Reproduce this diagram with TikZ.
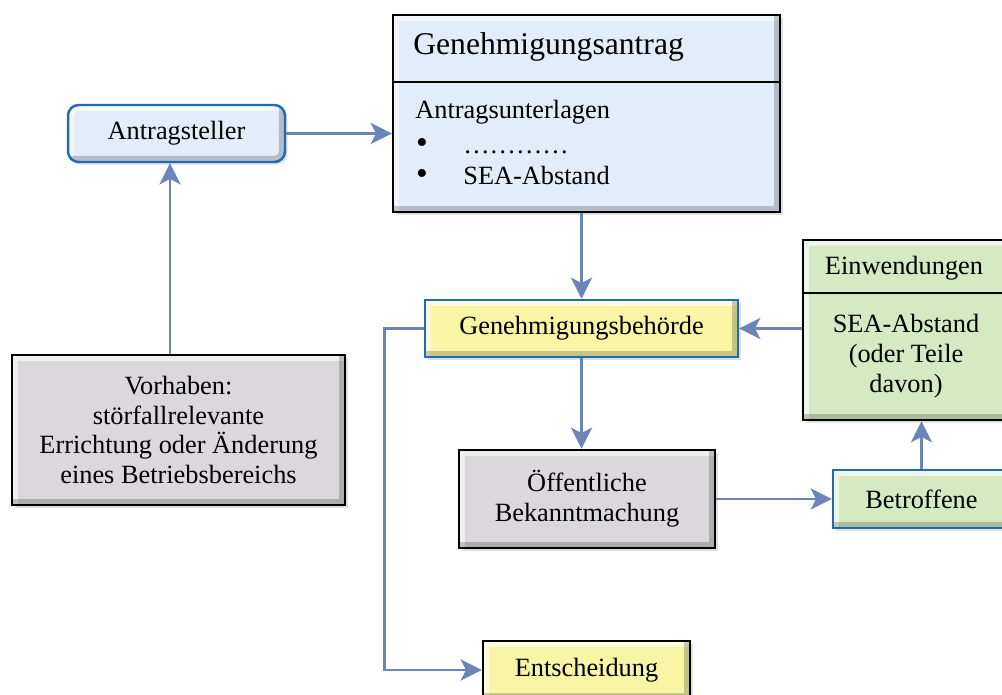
\documentclass[tikz,border=0pt]{standalone}
\usepackage{fontspec}
\setmainfont{Liberation Serif}
\usetikzlibrary{positioning, calc, arrows.meta, shadows}

\definecolor{flowblue}{HTML}{6C85B8}
\definecolor{rimblue}{HTML}{1F6DB0}
\definecolor{paleblue}{HTML}{E3ECFA}
\definecolor{paleyellow}{HTML}{F8F5A4}
\definecolor{palegreen}{HTML}{D5EAC3}
\definecolor{palegrey}{HTML}{DAD8DA}

\tikzset{
  box/.style={line width=1.4pt, inner sep=2pt, align=center,
    font=\fontsize{15}{17}\selectfont,
    drop shadow={shadow xshift=1.5pt, shadow yshift=-1.5pt, opacity=0.25},
    path picture={
      \draw[white, opacity=.6, line width=7pt] (path picture bounding box.south west)
        -- (path picture bounding box.north west) -- (path picture bounding box.north east);
      \draw[black, opacity=.2, line width=7pt] (path picture bounding box.north east)
        -- (path picture bounding box.south east) -- (path picture bounding box.south west);
    }},
  bluebox/.style={box, draw=rimblue},
  blackbox/.style={box, draw=black},
  txt/.style={font=\fontsize{15}{17}\selectfont, inner sep=0pt, align=center},
  dot/.style={font=\fontsize{19}{19}\selectfont, inner sep=0pt, anchor=base},
  flow/.style={draw=flowblue, line width=1.7pt,
    -{Stealth[length=12pt, width=12pt, inset=3pt]}},
}

\begin{document}
\begin{tikzpicture}[x=0.02cm, y=-0.02cm]
    \useasboundingbox (0,0) rectangle (1002,695);
    \clip (0,0) rectangle (1002,695);

    % boxes
    \node[bluebox, fill=paleblue, rounded corners=6pt, minimum width=4.34cm, minimum height=1.14cm]
        (steller) at (176.5,133.5) {Antragsteller};
    \node[blackbox, fill=paleblue, minimum width=7.74cm, minimum height=3.94cm]
        (antrag) at (586.5,113.5) {};
    \node[bluebox, fill=paleyellow, minimum width=6.26cm, minimum height=1.14cm]
        (behoerde) at (581.5,328.5) {Genehmigungsbehörde};
    \node[blackbox, fill=palegreen, minimum width=4.14cm, minimum height=3.6cm]
        (einw) at (906.5,330) {};
    \node[blackbox, fill=palegrey, minimum width=6.66cm, minimum height=3.0cm]
        (vorhaben) at (178.5,430) {Vorhaben:\\störfallrelevante\\Errichtung oder Änderung\\eines Betriebsbereichs};
    \node[blackbox, fill=palegrey, minimum width=5.12cm, minimum height=1.96cm]
        (oeff) at (587,499) {Öffentliche\\Bekanntmachung};
    \node[bluebox, fill=palegreen, minimum width=3.54cm, minimum height=1.16cm]
        (betr) at (921.5,499) {Betroffene};
    \node[blackbox, fill=paleyellow, minimum width=4.14cm, minimum height=1.16cm]
        (entsch) at (586.5,670) {Entscheidung};

    % inner split lines
    \coordinate (antragsplit) at (0,82);
    \coordinate (einwsplit) at (0,293);
    \coordinate (steller-in) at (170,0);
    \draw[line width=1.2pt] (antrag.west |- antragsplit) -- (antrag.east |- antragsplit);
    \draw[line width=1.2pt] (einw.west |- einwsplit) -- (einw.east |- einwsplit);

    % texts of the application box
    \node[txt, anchor=west, font=\fontsize{18}{20}\selectfont] (antragtitle) at (413,47) {Genehmigungsantrag};
    \node[txt, anchor=west] (unterlagen) at (415,112) {Antragsunterlagen};
    \node[dot] (bulleta) at (422,154) {•};
    \node[txt, anchor=base west] (itema) at (463,154) {…………};
    \node[dot] (bulletb) at (422,185) {•};
    \node[txt, anchor=base west] (itemb) at (463,185) {SEA-Abstand};

    % texts of the objection box
    \node[txt] (einwtitle) at (904,268) {Einwendungen};
    \node[txt] (einwbody) at (906,356) {SEA-Abstand\\(oder Teile\\davon)};

    % connectors
    \draw[flow] (steller.east) -- (steller.east -| antrag.west);
    \draw[flow] (vorhaben.north -| steller-in) -- (steller.south -| steller-in);
    \draw[flow] (antrag.south -| behoerde.north) -- (behoerde.north);
    \draw[flow] (einw.west |- behoerde.east) -- (behoerde.east);
    \draw[flow] (behoerde.south) -- (behoerde.south |- oeff.north);
    \draw[flow] (oeff.east) -- (betr.west);
    \draw[flow] (betr.north) -- (betr.north |- einw.south);
    \draw[flow] (behoerde.west) -- ++(-39,0) |- (entsch.west);
\end{tikzpicture}
\end{document}
